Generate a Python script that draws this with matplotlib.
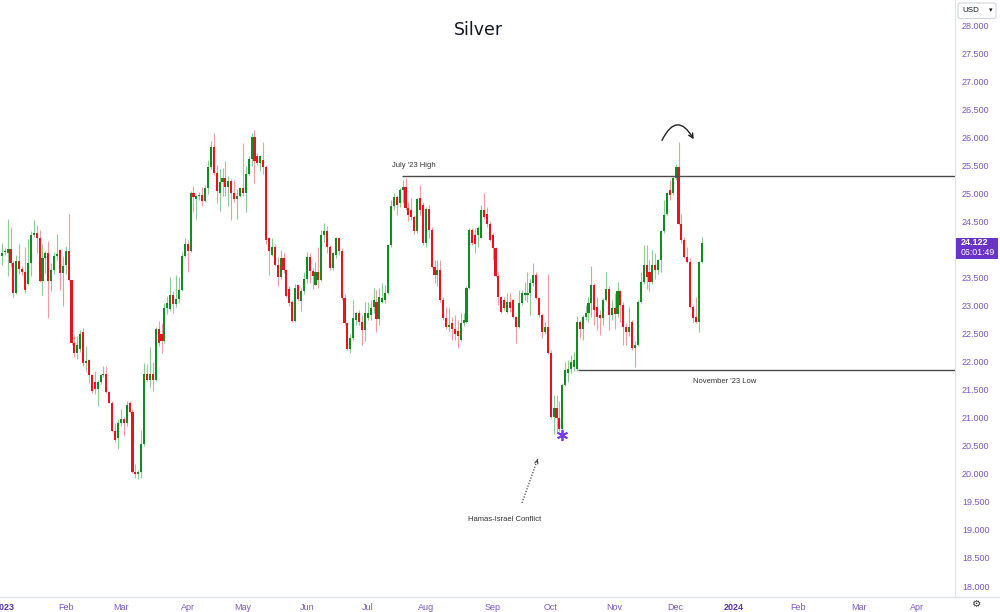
import numpy as np
import matplotlib.pyplot as plt
from matplotlib.patches import FancyArrowPatch, Rectangle, FancyBboxPatch
from matplotlib.lines import Line2D

plt.rcParams['font.family'] = ['Liberation Sans', 'DejaVu Sans']

# daily candles, 30 Dec 2022 .. 14 Dec 2023 (bar index = position on the time axis)
opens = [
    23.88, 23.95, 23.93, 24.00, 23.76, 23.22, 23.80, 23.65, 23.59, 23.38,
    23.76, 24.26, 24.30, 24.20, 23.44, 23.84, 23.93, 23.44, 23.64, 23.89,
    23.99, 23.58, 23.72, 23.98, 23.45, 22.33, 22.16, 22.22, 22.52, 21.97,
    22.02, 21.76, 21.64, 21.52, 21.64, 21.76, 21.78, 21.46, 21.27, 20.77,
    20.63, 20.90, 20.98, 20.90, 21.27, 21.10, 20.04, 20.00, 20.03, 20.53,
    21.78, 21.68, 21.78, 21.68, 22.59, 22.50, 22.36, 22.96, 22.94, 23.19,
    23.02, 23.12, 23.27, 23.88, 24.09, 23.97, 25.01, 24.90, 24.95, 24.97,
    24.87, 25.09, 25.47, 25.82, 25.36, 25.01, 25.20, 25.27, 25.12, 25.22,
    25.01, 24.89, 24.96, 25.10, 25.00, 25.35, 25.62, 26.01, 25.66, 25.54,
    25.60, 25.47, 24.20, 23.90, 24.05, 23.72, 23.50, 23.84, 23.63, 23.30,
    23.07, 22.72, 23.36, 23.08, 23.25, 23.48, 23.87, 23.61, 23.37, 23.60,
    23.45, 24.26, 24.32, 24.05, 23.66, 23.90, 24.20, 23.98, 23.13, 22.68,
    22.22, 22.42, 22.74, 22.86, 22.71, 22.56, 22.77, 22.83, 22.98, 23.07,
    22.76, 23.07, 23.10, 23.22, 24.08, 24.77, 24.94, 24.83, 25.06, 25.12,
    24.73, 24.71, 24.58, 24.32, 24.91, 24.80, 24.11, 24.72, 24.35, 23.69,
    23.54, 23.63, 23.10, 22.77, 22.62, 22.68, 22.59, 22.55, 22.38, 22.68,
    22.71, 23.31, 24.35, 24.26, 24.26, 24.20, 24.70, 24.64, 24.46, 24.26,
    24.02, 23.53, 23.16, 23.10, 22.89, 23.07, 23.10, 22.80, 22.62, 23.04,
    23.19, 23.19, 23.22, 23.40, 23.54, 23.13, 22.83, 22.53, 22.61, 22.15,
    21.02, 21.17, 20.99, 20.80, 21.58, 21.79, 21.86, 21.90, 21.86, 22.71,
    22.58, 22.80, 22.86, 23.04, 23.37, 22.98, 22.83, 22.77, 23.10, 23.29,
    22.83, 22.95, 22.85, 23.25, 23.01, 22.62, 22.53, 22.71, 22.24, 22.30,
    23.07, 23.42, 23.72, 23.60, 23.42, 23.72, 23.63, 23.81, 24.32, 24.64,
    25.06, 25.01, 25.27, 25.47, 24.46, 24.17, 23.87, 23.78, 22.98, 22.80,
    22.71, 23.78,
]
highs = [
    24.12, 24.02, 24.54, 24.40, 23.80, 23.90, 24.10, 23.70, 24.04, 24.18,
    24.32, 24.52, 24.43, 24.35, 24.10, 23.98, 24.15, 23.75, 23.95, 24.27,
    24.00, 23.88, 24.06, 24.63, 23.46, 22.48, 22.45, 22.56, 22.60, 22.27,
    22.05, 21.78, 21.84, 21.68, 21.78, 21.93, 21.92, 21.48, 21.30, 20.90,
    20.98, 21.16, 21.02, 21.30, 21.30, 21.15, 20.17, 20.06, 20.78, 21.97,
    21.95, 22.26, 22.00, 22.62, 22.73, 22.68, 23.05, 23.17, 23.51, 23.25,
    23.54, 23.50, 23.96, 24.20, 24.16, 25.05, 25.13, 24.97, 25.02, 25.12,
    25.14, 25.60, 25.93, 26.08, 25.50, 25.43, 25.45, 25.58, 25.30, 25.25,
    25.24, 25.08, 25.12, 25.90, 25.48, 25.66, 26.07, 26.12, 25.72, 25.68,
    25.92, 25.50, 24.22, 24.20, 24.10, 23.87, 23.99, 23.93, 23.65, 23.34,
    23.10, 23.38, 23.38, 23.32, 23.60, 23.96, 23.93, 23.66, 23.78, 24.05,
    24.35, 24.47, 24.41, 24.07, 23.95, 24.22, 24.22, 24.02, 23.20, 22.70,
    22.50, 23.10, 22.89, 22.92, 22.83, 23.07, 23.07, 23.10, 23.31, 23.28,
    23.31, 23.40, 23.37, 24.08, 24.88, 25.00, 24.97, 25.09, 25.24, 25.28,
    24.85, 24.91, 24.61, 24.91, 25.15, 24.85, 24.76, 24.79, 24.40, 23.81,
    23.81, 23.81, 23.16, 22.98, 22.95, 22.80, 22.83, 22.74, 22.86, 22.86,
    23.34, 24.38, 24.38, 24.38, 24.41, 24.79, 25.01, 24.76, 24.50, 24.29,
    24.05, 23.60, 23.17, 23.16, 23.22, 23.22, 23.12, 22.82, 23.28, 23.28,
    23.42, 23.59, 23.48, 23.76, 23.60, 23.16, 22.86, 22.71, 23.56, 22.20,
    21.40, 21.40, 21.29, 21.61, 22.00, 22.03, 22.12, 22.18, 22.81, 22.74,
    22.83, 23.01, 23.16, 23.70, 23.40, 23.16, 22.92, 23.13, 23.59, 23.34,
    23.10, 23.22, 23.42, 23.27, 23.07, 22.68, 22.98, 22.74, 22.36, 23.10,
    23.60, 24.08, 24.08, 23.81, 23.99, 23.93, 23.83, 24.35, 24.88, 25.03,
    25.23, 25.30, 25.53, 25.92, 24.64, 24.23, 24.05, 23.84, 23.01, 23.16,
    23.80, 24.23,
]
lows = [
    23.72, 23.90, 23.53, 23.68, 23.15, 23.20, 23.57, 23.55, 23.22, 23.37,
    23.53, 24.23, 23.93, 23.42, 23.18, 23.58, 22.77, 23.25, 23.56, 23.81,
    23.28, 22.99, 23.56, 23.43, 22.30, 22.08, 22.05, 22.18, 21.93, 21.84,
    21.61, 21.44, 21.43, 21.20, 21.60, 21.72, 21.44, 21.26, 20.75, 20.56,
    20.44, 20.85, 20.68, 20.85, 21.08, 20.02, 19.92, 19.90, 19.93, 20.50,
    21.66, 21.55, 21.47, 21.66, 22.28, 22.15, 22.33, 22.84, 22.90, 22.87,
    22.98, 23.05, 23.25, 23.86, 23.60, 23.95, 24.66, 24.55, 24.88, 24.78,
    24.84, 24.98, 25.44, 25.33, 24.82, 24.69, 24.95, 24.95, 24.78, 24.52,
    24.85, 24.55, 24.94, 24.95, 24.66, 25.32, 25.48, 25.19, 25.50, 25.39,
    25.35, 24.10, 23.54, 23.88, 23.70, 23.35, 23.48, 23.58, 23.15, 23.00,
    22.70, 22.70, 23.08, 22.90, 23.20, 23.40, 23.41, 23.30, 23.36, 23.32,
    23.43, 24.14, 23.93, 23.64, 23.63, 23.84, 23.90, 23.10, 22.66, 22.20,
    22.15, 22.39, 22.65, 22.66, 22.30, 22.36, 22.74, 22.74, 22.86, 22.53,
    22.65, 23.05, 23.04, 23.20, 24.05, 24.70, 24.61, 24.76, 24.82, 24.70,
    24.50, 24.52, 24.28, 24.30, 24.61, 24.08, 24.05, 24.20, 23.66, 23.40,
    23.34, 23.07, 22.74, 22.59, 22.55, 22.39, 22.39, 22.24, 22.36, 22.64,
    22.68, 23.29, 24.08, 23.93, 24.05, 24.20, 24.55, 24.40, 24.15, 23.81,
    23.51, 23.01, 22.86, 22.92, 22.86, 22.89, 22.78, 22.33, 22.60, 23.01,
    23.10, 23.07, 22.83, 23.34, 23.12, 22.80, 22.42, 22.50, 22.13, 21.00,
    20.71, 20.73, 20.76, 20.76, 21.56, 21.64, 21.80, 21.84, 21.84, 22.42,
    22.39, 22.74, 22.71, 22.80, 22.65, 22.56, 22.47, 22.65, 23.08, 22.56,
    22.74, 22.59, 22.80, 22.71, 22.30, 22.30, 22.45, 22.21, 21.90, 22.28,
    23.04, 23.39, 23.30, 23.25, 23.39, 23.48, 23.57, 23.60, 24.29, 24.61,
    24.88, 24.97, 25.24, 24.44, 24.11, 23.85, 23.75, 22.95, 22.71, 22.68,
    22.53, 23.76,
]
closes = [
    23.94, 23.98, 24.00, 23.76, 23.22, 23.80, 23.65, 23.59, 23.27, 23.76,
    24.26, 24.30, 24.20, 23.44, 23.84, 23.93, 23.44, 23.64, 23.89, 23.92,
    23.58, 23.70, 23.98, 23.45, 22.33, 22.16, 22.30, 22.50, 21.97, 22.01,
    21.76, 21.47, 21.52, 21.64, 21.76, 21.78, 21.46, 21.27, 20.77, 20.60,
    20.90, 20.98, 20.90, 21.22, 21.10, 20.04, 20.00, 20.03, 20.53, 21.78,
    21.68, 21.78, 21.68, 22.59, 22.33, 22.36, 22.95, 23.05, 23.19, 23.02,
    23.12, 23.27, 23.88, 24.09, 23.97, 25.01, 24.93, 24.95, 24.97, 24.87,
    25.09, 25.47, 25.82, 25.36, 25.05, 25.20, 25.27, 25.12, 25.22, 25.01,
    24.89, 24.96, 25.10, 25.00, 25.35, 25.62, 26.01, 25.58, 25.54, 25.66,
    25.47, 24.17, 23.97, 24.05, 23.72, 23.50, 23.84, 23.63, 23.17, 23.04,
    22.72, 23.32, 23.12, 23.25, 23.48, 23.87, 23.61, 23.52, 23.60, 23.45,
    24.26, 24.32, 24.05, 23.66, 23.93, 24.20, 23.98, 23.13, 22.68, 22.22,
    22.42, 22.77, 22.86, 22.70, 22.56, 22.86, 22.86, 22.95, 23.10, 22.76,
    23.16, 23.13, 23.22, 24.08, 24.77, 24.94, 24.79, 25.06, 25.12, 24.73,
    24.62, 24.58, 24.32, 24.89, 24.70, 24.11, 24.72, 24.35, 23.69, 23.54,
    23.63, 23.10, 22.77, 22.62, 22.66, 22.59, 22.50, 22.45, 22.68, 22.74,
    23.31, 24.35, 24.11, 24.10, 24.38, 24.70, 24.58, 24.46, 24.17, 24.02,
    23.53, 23.16, 22.89, 22.95, 23.07, 22.95, 22.80, 22.62, 23.04, 23.22,
    23.22, 23.23, 23.40, 23.54, 23.13, 22.83, 22.53, 22.61, 22.15, 21.02,
    21.17, 20.99, 20.80, 21.58, 21.85, 21.86, 22.00, 22.03, 22.71, 22.58,
    22.80, 22.86, 23.04, 23.37, 22.92, 22.80, 22.77, 23.10, 23.29, 22.83,
    22.95, 22.85, 23.25, 23.01, 22.62, 22.53, 22.62, 22.24, 22.30, 23.07,
    23.42, 23.72, 23.51, 23.42, 23.72, 23.63, 23.81, 24.32, 24.61, 25.00,
    24.97, 25.27, 25.47, 24.46, 24.17, 23.87, 23.78, 22.98, 22.77, 22.71,
    23.78, 24.122,
]

# time axis labels (bar index of the first bar in each month, future bars continue)
month_labels = ['2023', 'Feb', 'Mar', 'Apr', 'May', 'Jun', 'Jul', 'Aug', 'Sep',
                'Oct', 'Nov', 'Dec', '2024', 'Feb', 'Mar', 'Apr']
month_bars = [1, 22, 41, 64, 83, 105, 126, 146, 169, 189, 211, 232, 252, 274, 295, 315]
# 24.000 sits under the last-price tag, so it is not shown
price_ticks = [18.0, 18.5, 19.0, 19.5, 20.0, 20.5, 21.0, 21.5, 22.0, 22.5, 23.0,
               23.5, 24.5, 25.0, 25.5, 26.0, 26.5, 27.0, 27.5, 28.0]

july_high = 25.31
nov_low = 21.85
last_price = 24.122
countdown = '06:01:49'

assert len(opens) == len(highs) == len(lows) == len(closes)

axis_purple = '#7a55c6'
fig = plt.figure(figsize=(10, 6.12), dpi=100)
ax = fig.add_axes([0, 15 / 612, 0.955, 597 / 612])

o, h, l, c = (np.array(a) for a in (opens, highs, lows, closes))
x = np.arange(len(c))
up = c >= o
lo = np.minimum(o, c)
hgt = np.maximum(np.abs(c - o), 0.02)

ax.vlines(x[up], l[up], h[up], color='#8ccb92', lw=0.8, zorder=2)
ax.vlines(x[~up], l[~up], h[~up], color='#f09ca0', lw=0.8, zorder=2)
ax.bar(x[up], hgt[up], bottom=lo[up], width=0.72, color='#108c22', lw=0, zorder=3)
ax.bar(x[~up], hgt[~up], bottom=lo[~up], width=0.72, color='#e8141d', lw=0, zorder=3)

ax.set_xlim(-0.62, 328.2)
ax.set_ylim(17.804, 28.446)

# levels and notes
ax.hlines(july_high, 137.8, 328.2, color='#4a4a4a', lw=1, zorder=4)
ax.text(134.4, 25.49, "July '23 High", fontsize=5.5, color='#333333', va='center')
ax.hlines(nov_low, 198.4, 328.2, color='#4a4a4a', lw=1, zorder=4)
ax.text(238.0, 21.65, "November '23 Low", fontsize=5.5, color='#333333', va='center')

ax.plot([179.1, 184.5], [19.48, 20.26], ls=(0, (1, 1.3)), lw=0.9, color='#444444')
ax.annotate('', xy=(184.8, 20.31), xytext=(184.2, 20.21),
            arrowprops=dict(arrowstyle='->', lw=0.8, color='#444444', mutation_scale=6))
ax.text(173.3, 19.18, 'Hamas-Israel Conflict', fontsize=5.5, color='#333333',
        ha='center', va='center')
ax.plot(193.0, 20.70, marker=(6, 2, 0), ms=8, mew=1.3, color='#7b3fe4', zorder=5)

ax.add_patch(FancyArrowPatch((226.9, 25.90), (238.7, 25.92), connectionstyle='arc3,rad=-1.0',
                             arrowstyle='->', mutation_scale=8, lw=1, color='#222222'))

# axes styling
for s in ('top', 'left', 'bottom'):
    ax.spines[s].set_visible(False)
ax.spines['right'].set_color('#e0e3eb')
ax.yaxis.tick_right()
ax.set_yticks(price_ticks)
ax.set_yticklabels([f'{v:.3f}' for v in price_ticks])
ax.tick_params(axis='y', length=0, pad=5, labelsize=6.5, labelcolor=axis_purple)
ax.set_xticks(month_bars)
ax.set_xticklabels(month_labels)
ax.tick_params(axis='x', length=0, pad=4, labelsize=6.5, labelcolor=axis_purple)
for t in ax.get_xticklabels():
    if t.get_text().isdigit():
        t.set_fontweight('bold')
        t.set_color('#5b33b0')

fig.add_artist(Line2D([0, 1], [15 / 612, 15 / 612], color='#e0e3eb', lw=1))

fig.text(0.478, 1 - 30 / 612, 'Silver', ha='center', va='center', fontsize=12.5,
         color='#131722', family='DejaVu Sans')

# last price tag
fig.add_artist(Rectangle((0.956, 1 - 258.5 / 612), 0.042, 21 / 612, color='#6a33c8', lw=0))
fig.text(0.9605, 1 - 242.8 / 612, f'{last_price:.3f}', color='white', fontsize=6.5,
         fontweight='bold', va='center')
fig.text(0.9605, 1 - 252.6 / 612, countdown, color='white', fontsize=6.3, va='center')

# currency box and settings icon
fig.add_artist(FancyBboxPatch((0.958, 1 - 18.5 / 612), 0.038, 15.5 / 612,
                              boxstyle='round,pad=0,rounding_size=0.003',
                              fc='white', ec='#d1d4dc', lw=0.8))
fig.text(0.962, 1 - 10.5 / 612, 'USD', fontsize=5.8, color='#131722', va='center')
fig.text(0.989, 1 - 10.5 / 612, '▾', fontsize=5, color='#131722', va='center',
         family=['DejaVu Sans'])
fig.text(0.977, 1 - 604 / 612, '⚙', fontsize=7.5, color='#333333', ha='center',
         va='center', family=['DejaVu Sans'])

fig.savefig('out.png', dpi=100)
